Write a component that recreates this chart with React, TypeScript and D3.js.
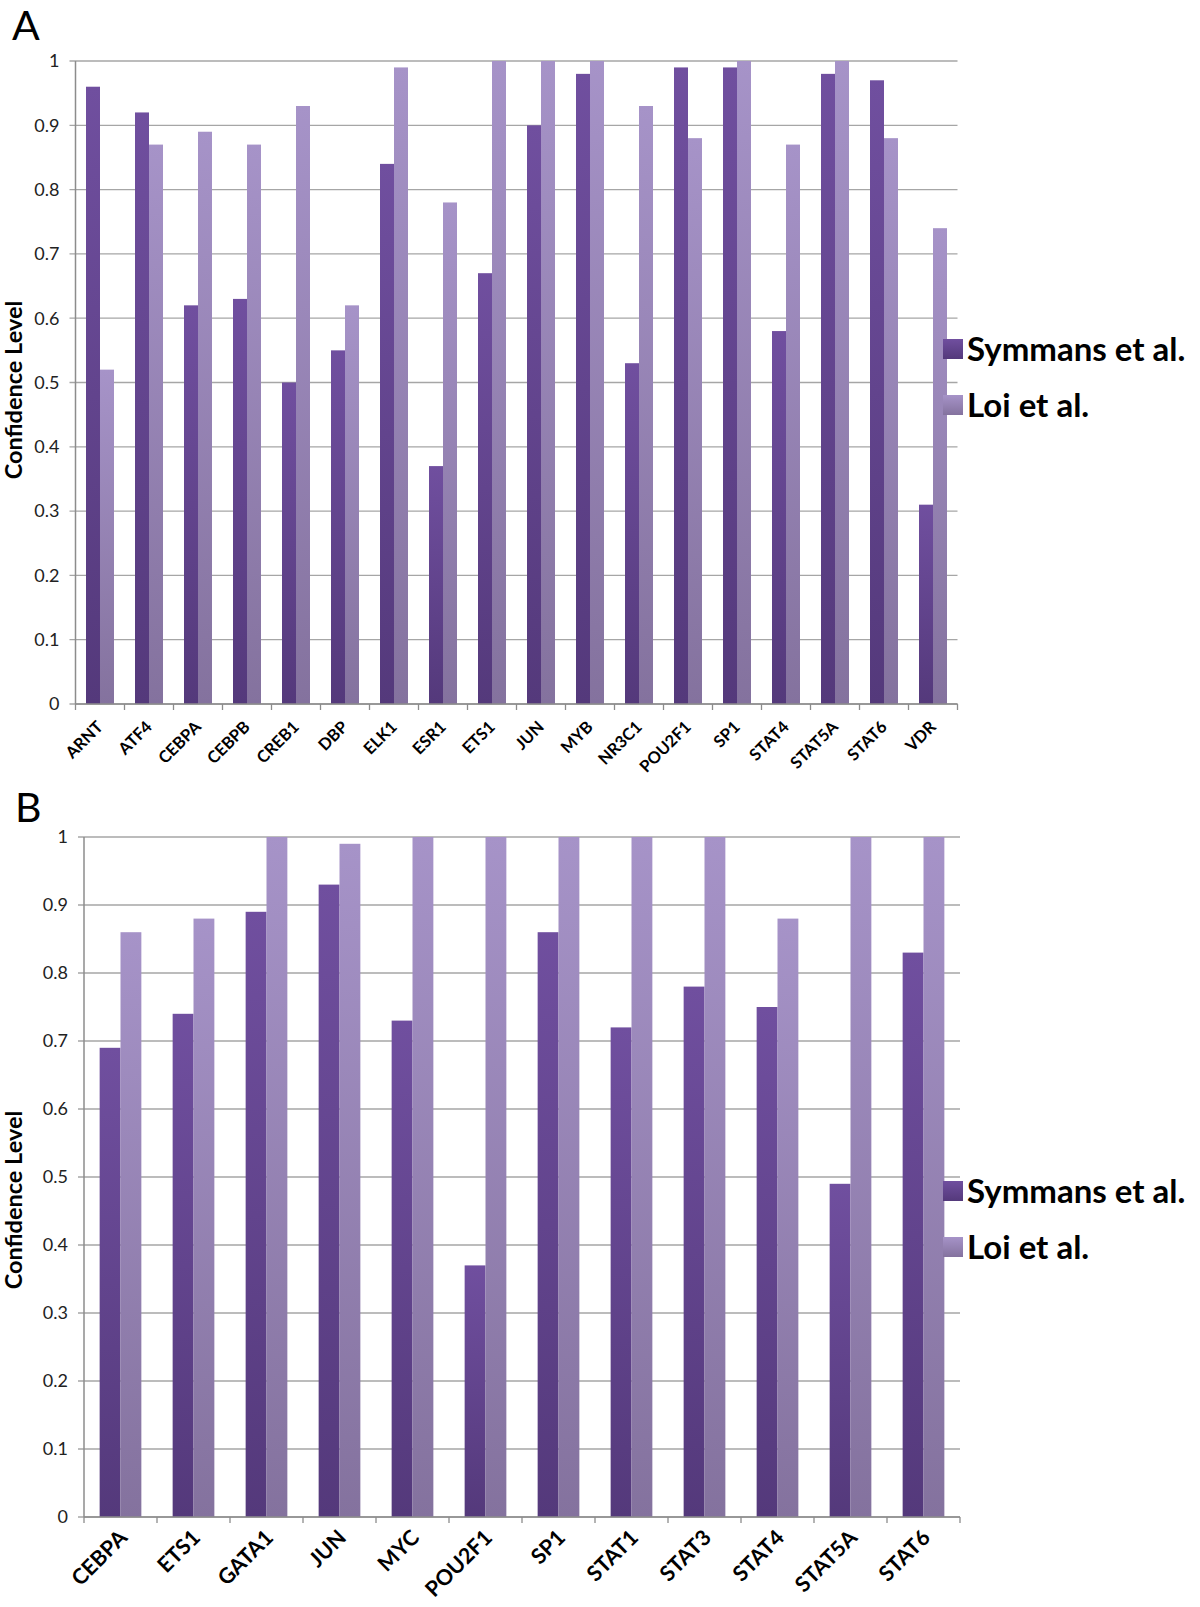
import React, { useEffect } from "react";
import * as d3 from "d3";

const categoriesA = ["ARNT", "ATF4", "CEBPA", "CEBPB", "CREB1", "DBP", "ELK1", "ESR1", "ETS1", "JUN", "MYB", "NR3C1", "POU2F1", "SP1", "STAT4", "STAT5A", "STAT6", "VDR"];
const symmansA = [0.96, 0.92, 0.62, 0.63, 0.50, 0.55, 0.84, 0.37, 0.67, 0.90, 0.98, 0.53, 0.99, 0.99, 0.58, 0.98, 0.97, 0.31];
const loiA = [0.52, 0.87, 0.89, 0.87, 0.93, 0.62, 0.99, 0.78, 1.0, 1.0, 1.0, 0.93, 0.88, 1.0, 0.87, 1.0, 0.88, 0.74];

const categoriesB = ["CEBPA", "ETS1", "GATA1", "JUN", "MYC", "POU2F1", "SP1", "STAT1", "STAT3", "STAT4", "STAT5A", "STAT6"];
const symmansB = [0.69, 0.74, 0.89, 0.93, 0.73, 0.37, 0.86, 0.72, 0.78, 0.75, 0.49, 0.83];
const loiB = [0.86, 0.88, 1.0, 0.99, 1.0, 1.0, 1.0, 1.0, 1.0, 0.88, 1.0, 1.0];

const yTicks = [0, 0.1, 0.2, 0.3, 0.4, 0.5, 0.6, 0.7, 0.8, 0.9, 1];
const seriesNames = ["Symmans et al.", "Loi et al."];

const FONT = "Lato, 'Open Sans', sans-serif";

type PanelProps = {
  letter: string;
  letterX: number;
  letterY: number;
  cats: string[];
  s1: number[];
  s2: number[];
  left: number;
  right: number;
  top: number;
  bottom: number;
  xFont: number;
  xdx: number;
  xdy: number;
  legendY: number;
  titleY: number;
};

function Panel(p: PanelProps) {
  const x = d3.scaleBand<string>().domain(p.cats).range([p.left, p.right]).paddingInner(0).paddingOuter(0);
  const sub = d3.scaleBand<string>().domain(["s1", "s2"]).range([0, x.bandwidth()]).paddingInner(0).paddingOuter(0.75);
  const y = d3.scaleLinear().domain([0, 1]).range([p.bottom, p.top]);
  const ticksX = [...p.cats.map((c) => x(c) as number), p.right];
  return (
    <g>
      <text x={p.letterX} y={p.letterY} fontFamily={FONT} fontSize={41} fill="#000">{p.letter}</text>
      {yTicks.map((t) => (
        <g key={t}>
          <line x1={p.left - 6} x2={p.right} y1={y(t)} y2={y(t)} stroke="#a6a6a6" strokeWidth={1.3} />
          <text x={p.left - 16} y={y(t)} dy="0.35em" textAnchor="end" fontFamily={FONT} fontSize={18} fill="#222">{String(t)}</text>
        </g>
      ))}
      <line x1={p.left} x2={p.left} y1={p.top} y2={p.bottom} stroke="#8c8c8c" strokeWidth={1.5} />
      {p.cats.map((c, i) => (
        <g key={c}>
          <rect x={(x(c) as number) + (sub("s1") as number)} width={sub.bandwidth()} y={y(p.s1[i])} height={p.bottom - y(p.s1[i])} fill="url(#gDark)" />
          <rect x={(x(c) as number) + (sub("s2") as number)} width={sub.bandwidth()} y={y(p.s2[i])} height={p.bottom - y(p.s2[i])} fill="url(#gLight)" />
        </g>
      ))}
      <line x1={p.left} x2={p.right} y1={p.bottom} y2={p.bottom} stroke="#8c8c8c" strokeWidth={1.5} />
      {ticksX.map((tx, i) => (
        <line key={i} x1={tx} x2={tx} y1={p.bottom} y2={p.bottom + 6} stroke="#8c8c8c" strokeWidth={1.3} />
      ))}
      {p.cats.map((c) => {
        const cx = (x(c) as number) + x.bandwidth() / 2;
        return (
          <text key={c} transform={`translate(${cx + p.xdx},${p.bottom + p.xdy}) rotate(-45)`} textAnchor="end" fontFamily={FONT} fontWeight="bold" fontSize={p.xFont} fill="#000">{c}</text>
        );
      })}
      <text transform={`translate(22,${p.titleY}) rotate(-90)`} textAnchor="middle" fontFamily={FONT} fontWeight="bold" fontSize={23.5} fill="#000">Confidence Level</text>
      <rect x={943} y={p.legendY - 10} width={20} height={20} fill="url(#gDark)" />
      <text x={967} y={p.legendY} dy="0.36em" fontFamily={FONT} fontWeight="bold" fontSize={33} fill="#000">{seriesNames[0]}</text>
      <rect x={943} y={p.legendY + 56 - 10} width={20} height={20} fill="url(#gLight)" />
      <text x={967} y={p.legendY + 56} dy="0.36em" fontFamily={FONT} fontWeight="bold" fontSize={33} fill="#000">{seriesNames[1]}</text>
    </g>
  );
}

export default function App() {
  useEffect(() => {
    document.body.style.margin = "0";
  }, []);
  return (
    <svg width={1200} height={1607} style={{ display: "block", background: "#fff" }}>
      <defs>
        <linearGradient id="gDark" x1="0" y1="0" x2="0" y2="1">
          <stop offset="0" stopColor="#704f9f" />
          <stop offset="1" stopColor="#54397b" />
        </linearGradient>
        <linearGradient id="gLight" x1="0" y1="0" x2="0" y2="1">
          <stop offset="0" stopColor="#a693c8" />
          <stop offset="1" stopColor="#84729e" />
        </linearGradient>
      </defs>
      <rect width={1200} height={1607} fill="#fff" />
      <Panel letter="A" letterX={12} letterY={40} cats={categoriesA} s1={symmansA} s2={loiA} left={75.5} right={957.5} top={61} bottom={704} xFont={16.5} xdx={4} xdy={24} legendY={349} titleY={390} />
      <Panel letter="B" letterX={15} letterY={822} cats={categoriesB} s1={symmansB} s2={loiB} left={84} right={960} top={837} bottom={1517} xFont={21.5} xdx={8} xdy={22} legendY={1191} titleY={1200} />
    </svg>
  );
}
